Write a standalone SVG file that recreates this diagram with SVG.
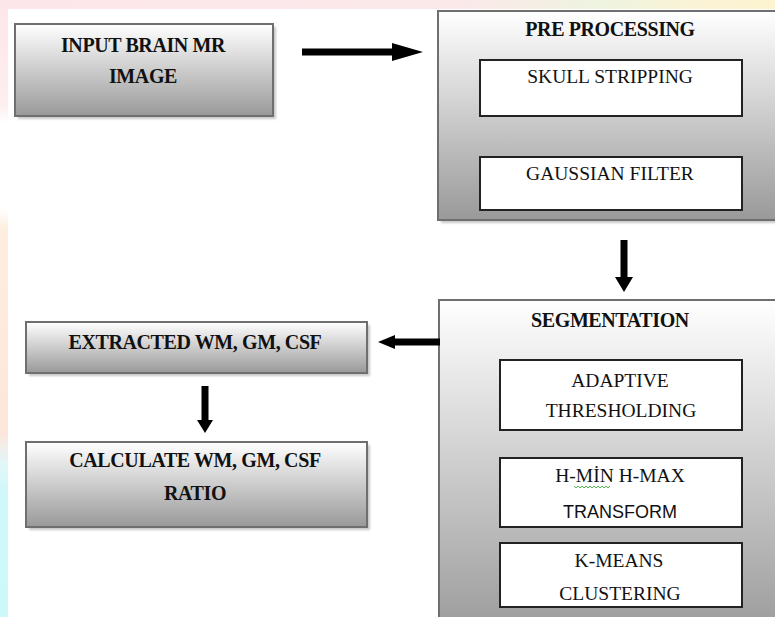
<svg xmlns="http://www.w3.org/2000/svg" width="775" height="617" viewBox="0 0 775 617">
<defs>
<linearGradient id="gIn" x1="0" y1="0" x2="0" y2="1"><stop offset="0" stop-color="#ffffff"/><stop offset="1" stop-color="#999999"/></linearGradient>
<linearGradient id="gTop" x1="0" y1="0" x2="1" y2="0"><stop offset="0" stop-color="#fde6e9"/><stop offset="0.6" stop-color="#fbe9ea"/><stop offset="0.78" stop-color="#eef4df"/><stop offset="0.9" stop-color="#fbf3d6"/><stop offset="1" stop-color="#fdf3cf"/></linearGradient>
<linearGradient id="gLeft" x1="0" y1="0" x2="0" y2="1"><stop offset="0" stop-color="#fde6ea"/><stop offset="0.17" stop-color="#fdeef0"/><stop offset="0.2" stop-color="#ffffff"/><stop offset="0.34" stop-color="#ffffff"/><stop offset="0.37" stop-color="#feeedf"/><stop offset="0.7" stop-color="#fde6dc"/><stop offset="0.75" stop-color="#e4f6f8"/><stop offset="0.8" stop-color="#cff8f9"/><stop offset="1" stop-color="#cdf8fa"/></linearGradient>
<filter id="sh" x="-5%" y="-5%" width="115%" height="125%"><feGaussianBlur stdDeviation="1.2"/></filter>
</defs>
<style>
.outer{fill:url(#gIn);stroke:#6f6f6f;stroke-width:2}
.shadow{fill:#9a9a9a;opacity:0.55;filter:url(#sh)}
.inner{fill:#ffffff;stroke:#222222;stroke-width:2}
.b{font-family:"Liberation Serif","Times New Roman",serif;font-weight:bold;font-size:20px;fill:#111;text-anchor:middle;letter-spacing:-0.4px}
.r{font-family:"Liberation Serif","Times New Roman",serif;font-size:19.5px;fill:#111;text-anchor:middle}
.s{font-family:"Liberation Sans",Arial,sans-serif;font-size:18px;fill:#111;text-anchor:middle}
.arr{fill:#000}
</style>
<rect x="0" y="0" width="775" height="617" fill="#ffffff"/>
<rect x="0" y="0" width="775" height="9" fill="url(#gTop)"/>
<rect x="0" y="0" width="8" height="617" fill="url(#gLeft)"/>

<g id="input">
<rect class="shadow" x="18" y="27" width="258" height="92"/>
<rect class="outer" x="15" y="24" width="258" height="92"/>
<text class="b" x="143" y="52">INPUT BRAIN MR</text>
<text class="b" x="143" y="83">IMAGE</text>
</g>

<g id="preprocessing">
<rect class="shadow" x="441" y="14" width="340" height="209"/>
<rect class="outer" x="438" y="11" width="345" height="209"/>
<text class="b" x="610" y="36">PRE PROCESSING</text>
<g id="skull">
<rect class="inner" x="480" y="60" width="262" height="56"/>
<text class="r" x="610" y="83">SKULL STRIPPING</text>
</g>
<g id="gaussian">
<rect class="inner" x="480" y="157" width="262" height="53"/>
<text class="r" x="610" y="180">GAUSSIAN FILTER</text>
</g>
</g>

<g id="segmentation">
<rect class="outer" x="439" y="300" width="345" height="340"/>
<text class="b" x="610" y="327">SEGMENTATION</text>
<g id="adaptive">
<rect class="inner" x="500" y="360" width="242" height="70"/>
<text class="r" x="620" y="387">ADAPTIVE</text>
<text class="r" x="621" y="417">THRESHOLDING</text>
</g>
<g id="hmin">
<rect class="inner" x="500" y="458" width="242" height="69"/>
<text class="r" x="620" y="482">H-MİN H-MAX</text>
<path d="M574,486 l2,2 l2,-2 l2,2 l2,-2 l2,2 l2,-2 l2,2 l2,-2 l2,2 l2,-2 l2,2 l2,-2 l2,2 l2,-2 l2,2 l2,-2 l2,2 l2,-2" fill="none" stroke="#3fae3f" stroke-width="0.9"/>
<text class="s" x="620" y="518">TRANSFORM</text>
</g>
<g id="kmeans">
<rect class="inner" x="500" y="543" width="242" height="64"/>
<text class="r" x="619" y="567">K-MEANS</text>
<text class="r" x="620" y="600">CLUSTERING</text>
</g>
</g>

<g id="extracted">
<rect class="shadow" x="29" y="325" width="341" height="51"/>
<rect class="outer" x="26" y="322" width="341" height="51"/>
<text class="b" x="195" y="349">EXTRACTED WM, GM, CSF</text>
</g>

<g id="calculate">
<rect class="shadow" x="29" y="445" width="341" height="85"/>
<rect class="outer" x="26" y="442" width="341" height="85"/>
<text class="b" x="195" y="467">CALCULATE WM, GM, CSF</text>
<text class="b" x="195" y="500">RATIO</text>
</g>

<g id="connectors">
<polygon class="arr" points="302,48.5 392,48.5 392,43 423,52 392,61 392,55.5 302,55.5"/>
<polygon class="arr" points="620.5,240 627.5,240 627.5,277 633,277 624,292 615,277 620.5,277"/>
<polygon class="arr" points="440,338.5 395,338.5 395,335 378,342 395,349 395,345.5 440,345.5"/>
<polygon class="arr" points="201.5,386 208.5,386 208.5,420 213,420 205,433 197,420 201.5,420"/>
</g>
</svg>
